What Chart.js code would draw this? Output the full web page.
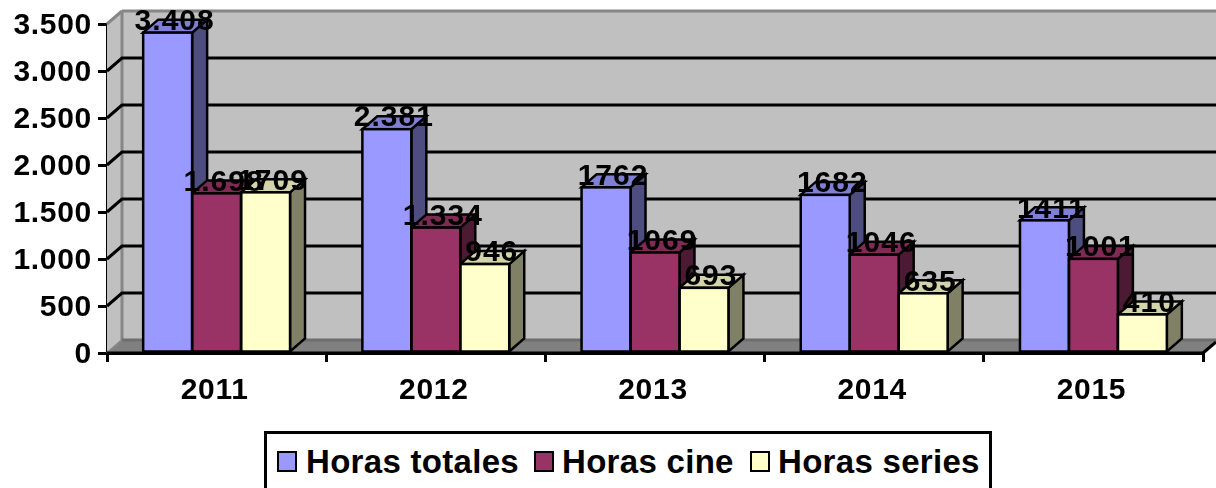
<!DOCTYPE html>
<html>
<head>
<meta charset="utf-8">
<title>Horas</title>
<script src="https://cdn.jsdelivr.net/npm/chart.js@4"></script>
<style>
    html, body { margin: 0; padding: 0; background: #fff; overflow: hidden; }
    #graph { position: absolute; left: 0; top: 0; }
    #legend {
        position: absolute; left: 264px; top: 431px; width: 722px; height: 70px;
        border: 3px solid #000; background: #fff;
        font: bold 33px "Liberation Sans", Arial, sans-serif; color: #000;
        letter-spacing: 0.3px;
    }
    #legend span { position: absolute; top: 9px; white-space: nowrap; }
    #legend i { position: absolute; top: 17px; width: 16px; height: 17px; border: 2px solid #000; }
</style>
</head>
<body>
<canvas id="graph" width="1216" height="488"></canvas>
<div id="legend"></div>
<script>
    const years = ['2011', '2012', '2013', '2014', '2015'];
    const yTicks = ['0', '500', '1.000', '1.500', '2.000', '2.500', '3.000', '3.500'];

    const horasTotales = [3408, 2381, 1762, 1682, 1411];
    const horasCine = [1698, 1334, 1069, 1046, 1001];
    const horasSeries = [1709, 946, 693, 635, 410];

    // the picture writes some values with a dot and some without
    const totalesText = ['3.408', '2.381', '1762', '1682', '1411'];
    const cineText = ['1.698', '1.334', '1069', '1046', '1001'];
    const seriesText = ['1709', '946', '693', '635', '410'];

    const seriesNames = ['Horas totales', 'Horas cine', 'Horas series'];
    const seriesText2 = [totalesText, cineText, seriesText];

    const front = ['#9999ff', '#993366', '#ffffcc'];
    const side = ['#4d4d80', '#4d1a33', '#808066'];
    const top3d = ['#7f7fd4', '#802b55', '#d4d4aa'];

    const depthX = 15;
    const depthY = 13;
    const boldFont = { family: '"Liberation Sans", Arial, sans-serif', size: 30, weight: 'bold' };

    const poly = (ctx, pts, fill, stroke, width) => {
        ctx.beginPath();
        pts.forEach((p, i) => i ? ctx.lineTo(p[0], p[1]) : ctx.moveTo(p[0], p[1]));
        ctx.closePath();
        ctx.fillStyle = fill;
        ctx.fill();
        if (stroke) {
            ctx.strokeStyle = stroke;
            ctx.lineWidth = width;
            ctx.stroke();
        }
    };

    const line = (ctx, x1, y1, x2, y2, color, width) => {
        ctx.beginPath();
        ctx.moveTo(x1, y1);
        ctx.lineTo(x2, y2);
        ctx.strokeStyle = color;
        ctx.lineWidth = width;
        ctx.stroke();
    };

    // walls, floor and grid of the 3d box
    const box = {
        id: 'box',
        beforeDraw(chart) {
            // the chart resets the canvas when it starts, so set it here
            chart.ctx.letterSpacing = '0.7px';
        },
        beforeDatasetsDraw(chart) {
            const ctx = chart.ctx;
            const a = chart.chartArea;
            const y = chart.scales.y;
            const w = chart.width;
            ctx.save();
            poly(ctx, [[a.left, a.top], [a.left + depthX, a.top - depthY], [w, a.top - depthY], [w, a.bottom - depthY], [a.left + depthX, a.bottom - depthY], [a.left, a.bottom]], '#c0c0c0');
            poly(ctx, [[a.left, a.bottom], [a.left + depthX, a.bottom - depthY], [w, a.bottom - depthY], [w, a.bottom - depthY], [a.right, a.bottom]], '#808080');
            line(ctx, a.left + depthX, a.top - depthY, a.left + depthX, a.bottom - depthY, '#868686', 3);
            line(ctx, a.left + depthX, a.top - depthY, w, a.top - depthY, '#868686', 3);
            line(ctx, a.left, a.top, a.left + depthX, a.top - depthY, '#868686', 3);
            line(ctx, a.left + depthX, a.bottom - depthY, w, a.bottom - depthY, '#6e6e6e', 3);
            line(ctx, a.left, a.bottom, a.left + depthX, a.bottom - depthY, '#868686', 2);
            y.ticks.forEach((t) => {
                if (t.value === 0 || t.value === y.max) return;
                const py = y.getPixelForValue(t.value);
                ctx.beginPath();
                ctx.moveTo(a.left, py);
                ctx.lineTo(a.left + depthX, py - depthY);
                ctx.lineTo(w, py - depthY);
                ctx.strokeStyle = '#000';
                ctx.lineWidth = 3;
                ctx.stroke();
            });
            line(ctx, a.right, a.bottom, w, a.bottom - depthY + 2, '#000', 3);

            chart.data.datasets.forEach((ds, i) => {
                chart.getDatasetMeta(i).data.forEach((bar) => {
                    const l = bar.x - bar.width / 2;
                    const r = bar.x + bar.width / 2;
                    poly(ctx, [[r, bar.y], [r + depthX, bar.y - depthY], [r + depthX, bar.base - depthY], [r, bar.base]], side[i], '#000', 2.5);
                    poly(ctx, [[l, bar.y], [l + depthX, bar.y - depthY], [r + depthX, bar.y - depthY], [r, bar.y]], top3d[i], '#000', 2.5);
                });
            });
            ctx.restore();
        },
        afterDatasetsDraw(chart) {
            const ctx = chart.ctx;
            const a = chart.chartArea;
            ctx.save();
            // outlines on top of the fills, so neighbours share one line
            chart.data.datasets.forEach((ds, i) => {
                chart.getDatasetMeta(i).data.forEach((bar) => {
                    ctx.strokeStyle = '#000';
                    ctx.lineWidth = 2.5;
                    ctx.strokeRect(bar.x - bar.width / 2, bar.y, bar.width, bar.base - bar.y);
                });
            });
            line(ctx, a.left, a.bottom, a.right, a.bottom, '#000', 3);
            ctx.fillStyle = '#000';
            ctx.font = 'bold 30px "Liberation Sans", Arial, sans-serif';
            ctx.letterSpacing = '1px';
            ctx.textAlign = 'center';
            ctx.textBaseline = 'middle';
            chart.data.datasets.forEach((ds, i) => {
                chart.getDatasetMeta(i).data.forEach((bar, j) => {
                    ctx.fillText(seriesText2[i][j], bar.x + 7, bar.y - 11);
                });
            });
            ctx.restore();
        }
    };

    const values = [horasTotales, horasCine, horasSeries];

    var ctx = document.getElementById('graph').getContext('2d');
    var myChart = new Chart(ctx, {
        type: 'bar',
        plugins: [box],
        data: {
            labels: years,
            datasets: seriesNames.map((name, i) => ({
                label: name,
                data: values[i],
                backgroundColor: front[i],
                borderWidth: 0,
                order: i
            }))
        },
        options: {
            responsive: false,
            animation: false,
            layout: { padding: { left: 0, top: 24, right: 13, bottom: 0 } },
            datasets: { bar: { categoryPercentage: 0.67, barPercentage: 1 } },
            plugins: { legend: { display: false }, tooltip: { enabled: false } },
            scales: {
                x: {
                    afterFit: (s) => { s.height = 135; },
                    border: { color: '#000', width: 3 },
                    grid: { drawOnChartArea: false, color: '#000', lineWidth: 3, tickLength: 9 },
                    ticks: { color: '#000', font: boldFont, padding: 11, labelOffset: -2, maxRotation: 0, autoSkip: false }
                },
                y: {
                    min: 0,
                    max: 3500,
                    afterFit: (s) => { s.width = 107; },
                    border: { color: '#000', width: 3 },
                    grid: { drawOnChartArea: false, color: '#000', lineWidth: 3, tickLength: 9 },
                    ticks: {
                        stepSize: 500,
                        color: '#000',
                        font: boldFont,
                        padding: 6,
                        labelOffset: 2,
                        callback: (v, i) => yTicks[i]
                    }
                }
            }
        }
    });

    // legend box, placed by hand like the original
    const legend = document.getElementById('legend');
    const swatchX = [10, 267, 483];
    const labelX = [39, 295, 511];
    seriesNames.forEach((name, i) => {
        const sw = document.createElement('i');
        sw.style.left = swatchX[i] + 'px';
        sw.style.background = front[i];
        legend.appendChild(sw);
        const tx = document.createElement('span');
        tx.style.left = labelX[i] + 'px';
        tx.textContent = name;
        legend.appendChild(tx);
    });
</script>
</body>
</html>
